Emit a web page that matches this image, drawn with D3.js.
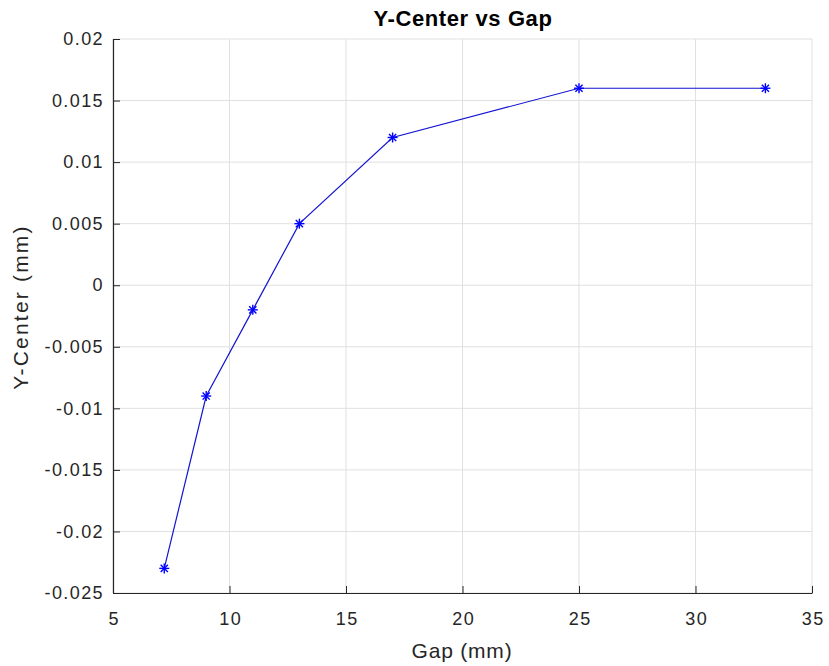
<!DOCTYPE html>
<html><head><meta charset="utf-8">
<script src="https://cdn.jsdelivr.net/npm/d3@7"></script>
<style>body{margin:0;background:#fff}svg{display:block;font-family:"Liberation Sans",Arial,sans-serif}</style>
</head><body>
<svg id="c" width="829" height="666"></svg>
<script>
const gapValues = [7.2, 9, 11, 13, 17, 25, 33];
const yCenterValues = [-0.023, -0.009, -0.002, 0.005, 0.012, 0.016, 0.016];
const xTicks = [5, 10, 15, 20, 25, 30, 35];
const yTicks = [-0.025, -0.02, -0.015, -0.01, -0.005, 0, 0.005, 0.01, 0.015, 0.02];
const yTickLabels = ["-0.025","-0.02","-0.015","-0.01","-0.005","0","0.005","0.01","0.015","0.02"];

const svg = d3.select("#c");
const L = 113, R = 812, T = 39, B = 593;
const x = d3.scaleLinear().domain([5, 35]).range([L, R]);
const y = d3.scaleLinear().domain([-0.025, 0.02]).range([B, T]);
const axisColor = "#262626";

// grid
svg.append("g").selectAll("line").data(xTicks).join("line")
  .attr("x1", d => x(d)).attr("x2", d => x(d)).attr("y1", T).attr("y2", B)
  .attr("stroke", "#e0e0e0").attr("stroke-width", 1);
svg.append("g").selectAll("line").data(yTicks).join("line")
  .attr("x1", L).attr("x2", R).attr("y1", d => y(d)).attr("y2", d => y(d))
  .attr("stroke", "#e0e0e0").attr("stroke-width", 1);

// axes
const xAxis = d3.axisBottom(x).tickValues(xTicks).tickSizeInner(-7).tickSizeOuter(0).tickPadding(19);
const yAxis = d3.axisLeft(y).tickValues(yTicks).tickFormat((d, i) => yTickLabels[i]).tickSizeInner(-7).tickSizeOuter(0).tickPadding(9);
const gx = svg.append("g").attr("transform", `translate(0,${B})`).call(xAxis);
const gy = svg.append("g").attr("transform", `translate(${L},0)`).call(yAxis);
[gx, gy].forEach(g => {
  g.select(".domain").attr("stroke", axisColor).attr("stroke-width", 1.2);
  g.selectAll(".tick line").attr("stroke", axisColor);
  g.selectAll(".tick text").attr("fill", axisColor).style("font-size", "18px")
    .style("letter-spacing", "1.4px").style("font-family", "'Liberation Sans', Arial, sans-serif");
});
gx.selectAll(".tick text").attr("dx", "0.7px");

// line
const pts = gapValues.map((g, i) => [g, yCenterValues[i]]);
svg.append("path").datum(pts)
  .attr("d", d3.line().x(d => x(d[0])).y(d => y(d[1])))
  .attr("fill", "none").attr("stroke", "#1414d2").attr("stroke-width", 1.2);

// asterisk markers
const s = 5;
const star = svg.append("g").selectAll("g").data(pts).join("g")
  .attr("transform", d => `translate(${x(d[0])},${y(d[1])})`)
  .attr("stroke", "#0000ff").attr("stroke-width", 1.4);
star.append("line").attr("x1", -s).attr("x2", s).attr("y1", 0).attr("y2", 0);
star.append("line").attr("x1", 0).attr("x2", 0).attr("y1", -s).attr("y2", s);
star.append("line").attr("x1", -s*0.72).attr("x2", s*0.72).attr("y1", -s*0.72).attr("y2", s*0.72);
star.append("line").attr("x1", -s*0.72).attr("x2", s*0.72).attr("y1", s*0.72).attr("y2", -s*0.72);

// titles
svg.append("text").attr("x", 463).attr("y", 26).attr("text-anchor", "middle")
  .style("font-size", "22px").style("font-weight", "bold").style("letter-spacing", "0.6px")
  .attr("fill", "#000").text("Y-Center vs Gap");
svg.append("text").attr("x", 462).attr("y", 658).attr("text-anchor", "middle")
  .style("font-size", "21px").style("letter-spacing", "0.8px").attr("fill", axisColor).text("Gap (mm)");
svg.append("text").attr("transform", `translate(28,307) rotate(-90)`).attr("text-anchor", "middle")
  .style("font-size", "21px").style("letter-spacing", "2.2px").attr("fill", axisColor).text("Y-Center (mm)");
</script>
</body></html>
